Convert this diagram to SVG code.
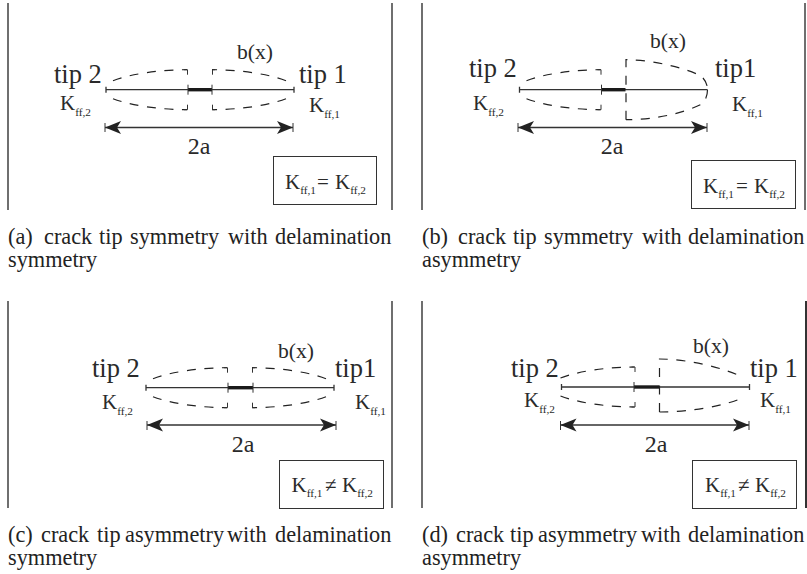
<svg xmlns="http://www.w3.org/2000/svg" xmlns:xlink="http://www.w3.org/1999/xlink" width="807" height="574" viewBox="0 0 807 574">
<style>
text{font-family:"Liberation Serif","Times New Roman",serif;fill:#2a2a2a}
.tip{font-size:26.5px}.bx{font-size:21.6px}.k{font-size:21px}.s{font-size:11.3px}.a{font-size:24px;text-anchor:middle}
.cap{font-size:22.3px;fill:#222}
.wall{stroke:#333;stroke-width:1.4;fill:none}
.box{stroke:#333;stroke-width:1;fill:#fff}
.crack{stroke:#333;stroke-width:1.3;fill:none}
.core{stroke:#1a1a1a;stroke-width:3.4;fill:none}
.dash{stroke:#222;stroke-width:1.2;fill:none;stroke-dasharray:9 8.5}
.dim{stroke:#333;stroke-width:1.7;fill:none;marker-start:url(#head);marker-end:url(#head)}
.tick{stroke:#333;stroke-width:1;fill:none}
</style>
<defs>
<marker id="head" viewBox="0 0 16 14" refX="16" refY="7" markerUnits="userSpaceOnUse" markerWidth="16" markerHeight="14" orient="auto-start-reverse"><path d="M0,0.5 L16,7 L0,13.5 L4,7Z" fill="#222"/></marker>
<g id="halfL"><path class="dash" d="M7,-9 C25,-16 55,-20 81,-20"/><path class="tick" d="M78,-20H81.500V-15"/><path class="dash" d="M7,9 C25,16 55,20 81,20"/><path class="tick" d="M78,20H81.500V15"/></g>
<g id="halfR"><path class="dash" d="M180,-9 C162,-16 132,-20 106,-20"/><path class="tick" d="M109,-20H106.500V-15"/><path class="dash" d="M180,9 C162,16 132,20 106,20"/><path class="tick" d="M109,20H106.500V15"/></g>
</defs>

<g id="walls">
<path class="wall" d="M8,3V210M392,3V210M422,3V210M805,3V210M8,301V508M392,301V508M422,301V508"/>
<path class="wall" style="stroke-width:2" d="M806,301V508"/>
</g>

<g id="connectors">
<g transform="translate(106,89.700)"><path class="crack" d="M0,0H188M0,-3V3M188,-3V3"/><path class="core" d="M82,0H106"/><path class="tick" d="M82,-5V5M106,-5V5"/><use xlink:href="#halfL" href="#halfL"/><use xlink:href="#halfR" href="#halfR"/></g>
<path class="dim" d="M105,127.500H293"/><path class="tick" d="M105,123V132M293,123V132"/>

<g transform="translate(519.500,89.700)"><path class="crack" d="M0,0H188M0,-3V3"/><path class="core" d="M82,0H106"/><path class="tick" d="M82,-5V5"/><use xlink:href="#halfL" href="#halfL"/>
<path class="dash" d="M106.500,30V-30C132,-30 165,-22 181,-14C186,-10 188,-5 188,0"/><path class="dash" d="M188,0C188,8 184,14 181,15C160,25 132,30 106.500,30"/></g>
<path class="dim" d="M518,127.500H707"/><path class="tick" d="M518,123V132M707,123V132"/>

<g transform="translate(146,387.700)"><path class="crack" d="M0,0H188M0,-3V3M188,-3V3"/><path class="core" d="M82,0H107"/><path class="tick" d="M82,-5V5M107,-5V5"/><use xlink:href="#halfL" href="#halfL"/><use xlink:href="#halfR" href="#halfR"/></g>
<path class="dim" d="M147,425H336"/><path class="tick" d="M147,421V430M336,421V430"/>

<g transform="translate(561.500,387)"><path class="crack" d="M0,0H188M0,-3V3M188,-3V3"/><path class="core" d="M72.500,0H97.500"/><path class="tick" d="M72.500,-5V5"/><use xlink:href="#halfL" href="#halfL" transform="translate(-8,0)"/>
<path class="dash" d="M98,25V-28C125,-28 160,-20 181,-10"/><path class="dash" d="M98,25C125,25 160,20 181,11"/></g>
<path class="dim" d="M560.500,425H749"/><path class="tick" d="M560.500,421V430M749,421V430"/>
</g>

<g id="panel-a">
<text class="tip" x="54" y="82.500">tip 2</text><text class="tip" x="299" y="82.500">tip 1</text>
<text class="bx" x="237" y="59">b(x)</text>
<text class="k" x="60" y="110">K<tspan class="s" dy="6">ff,2</tspan></text>
<text class="k" x="309" y="112">K<tspan class="s" dy="6">ff,1</tspan></text>
<text class="a" x="199" y="154">2a</text>
<rect class="box" x="273.500" y="156.500" width="103" height="48"/>
<text class="k" x="285" y="189">K<tspan class="s" dy="5">ff,1</tspan><tspan x="317" dy="-5">=</tspan><tspan x="335" dy="0">K</tspan><tspan class="s" dy="5">ff,2</tspan></text>
<text class="cap" y="243.500"><tspan x="8">(a)</tspan> <tspan x="44">crack</tspan> <tspan x="99">tip</tspan> <tspan x="130">symmetry</tspan> <tspan x="228">with</tspan> <tspan x="275">delamination</tspan></text>
<text class="cap" x="8" y="266.500">symmetry</text>
</g>

<g id="panel-b">
<text class="tip" x="469" y="76.500">tip 2</text><text class="tip" x="715" y="76.500">tip1</text>
<text class="bx" x="650" y="48">b(x)</text>
<text class="k" x="473" y="110">K<tspan class="s" dy="6">ff,2</tspan></text>
<text class="k" x="732" y="111">K<tspan class="s" dy="6">ff,1</tspan></text>
<text class="a" x="612" y="154">2a</text>
<rect class="box" x="691.500" y="160.500" width="104" height="48"/>
<text class="k" x="703" y="193">K<tspan class="s" dy="5">ff,1</tspan><tspan x="736" dy="-5">=</tspan><tspan x="754" dy="0">K</tspan><tspan class="s" dy="5">ff,2</tspan></text>
<text class="cap" y="243.500"><tspan x="422">(b)</tspan> <tspan x="458">crack</tspan> <tspan x="513">tip</tspan> <tspan x="544">symmetry</tspan> <tspan x="642">with</tspan> <tspan x="688">delamination</tspan></text>
<text class="cap" x="422" y="266.500">asymmetry</text>
</g>

<g id="panel-c">
<text class="tip" x="92" y="377">tip 2</text><text class="tip" x="335" y="377">tip1</text>
<text class="bx" x="278" y="358">b(x)</text>
<text class="k" x="102" y="409">K<tspan class="s" dy="6">ff,2</tspan></text>
<text class="k" x="355" y="409">K<tspan class="s" dy="6">ff,1</tspan></text>
<text class="a" x="243" y="452">2a</text>
<rect class="box" x="279.500" y="460.500" width="104" height="48"/>
<text class="k" x="291.500" y="492">K<tspan class="s" dy="5">ff,1</tspan><tspan x="325" dy="-5">≠</tspan><tspan x="342" dy="0">K</tspan><tspan class="s" dy="5">ff,2</tspan></text>
<text class="cap" y="541.700"><tspan x="8">(c)</tspan> <tspan x="41">crack</tspan> <tspan x="97">tip</tspan> <tspan x="125">asymmetry</tspan> <tspan x="227">with</tspan> <tspan x="275">delamination</tspan></text>
<text class="cap" x="8" y="565">symmetry</text>
</g>

<g id="panel-d">
<text class="tip" x="511" y="377">tip 2</text><text class="tip" x="750" y="377">tip 1</text>
<text class="bx" x="693" y="353">b(x)</text>
<text class="k" x="524" y="407">K<tspan class="s" dy="6">ff,2</tspan></text>
<text class="k" x="760" y="407">K<tspan class="s" dy="6">ff,1</tspan></text>
<text class="a" x="656" y="452">2a</text>
<rect class="box" x="692.500" y="460.500" width="104" height="48"/>
<text class="k" x="705" y="492">K<tspan class="s" dy="5">ff,1</tspan><tspan x="738" dy="-5">≠</tspan><tspan x="755" dy="0">K</tspan><tspan class="s" dy="5">ff,2</tspan></text>
<text class="cap" y="541.700"><tspan x="422">(d)</tspan> <tspan x="456">crack</tspan> <tspan x="510">tip</tspan> <tspan x="538">asymmetry</tspan> <tspan x="641">with</tspan> <tspan x="688">delamination</tspan></text>
<text class="cap" x="422" y="565">asymmetry</text>
</g>
</svg>
